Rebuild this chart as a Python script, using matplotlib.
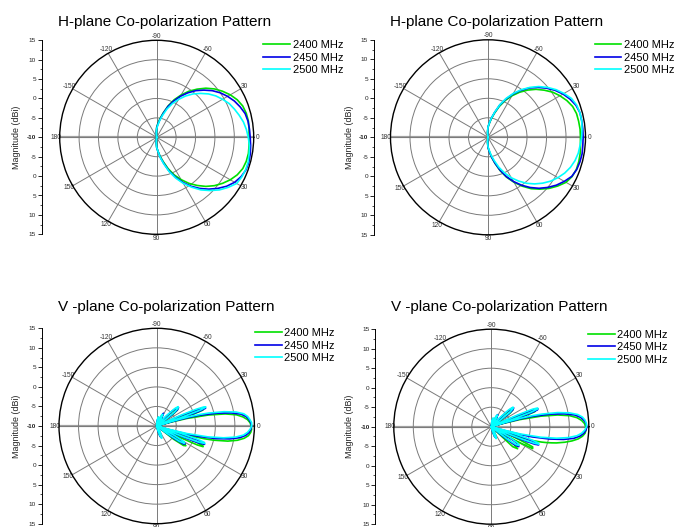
import numpy as np
import matplotlib
matplotlib.use("Agg")
import matplotlib.pyplot as plt
from matplotlib.ticker import AutoMinorLocator

plt.rcParams['font.family'] = ['Liberation Sans', 'DejaVu Sans']

# ---------------- data ----------------
SERIES = ["2400 MHz", "2450 MHz", "2500 MHz"]
COLORS = ["#00e000", "#0000e6", "#00ffff"]

RMIN, RMAX = -10, 15
RING_TICKS = [-5, 0, 5, 10]
THETA_TICKS = [0, 30, 60, 90, 120, 150, 180, 210, 240, 270, 300, 330]
THETA_LABELS = ["0", "30", "60", "90", "120", "150", "180", "-150", "-120", "-90", "-60", "30"]

# H-plane (angle in degrees, magnitude in dBi)
H_ANG = [-100, -95, -90, -85, -80, -75, -70, -65, -60, -55,
         -50, -45, -40, -35, -30, -25, -20, -15, -10, -5,
         0, 5, 10, 15, 20, 25, 30, 35, 40, 45,
         50, 55, 60, 65, 70, 75, 80, 85, 90, 95,
         100]

H1_2400 = [-10, -8.7, -7.4, -6.4, -5.1, -3.5, -1.4, 0.7, 2.6, 4.5,
           6.2, 7.9, 9.4, 10.7, 11.9, 12.9, 13.6, 13.9, 14.0, 13.9,
           13.8, 13.9, 14.0, 13.9, 13.6, 12.9, 11.9, 10.7, 9.4, 7.9,
           6.2, 4.5, 2.6, 0.7, -1.4, -3.5, -5.1, -6.4, -7.4, -8.7,
           -10]
H1_2450 = [-10, -8.8, -7.6, -6.6, -5.4, -3.7, -1.6, 0.3, 2.2, 4.0,
           5.7, 7.2, 8.7, 10.0, 11.1, 12.1, 12.9, 13.6, 13.9, 14.0,
           14.1, 14.3, 14.5, 14.6, 14.5, 14.0, 13.2, 12.0, 10.5, 8.9,
           7.2, 5.4, 3.4, 1.3, -0.8, -3.1, -4.8, -6.4, -7.4, -8.7,
           -10]
H1_2500 = [-10, -9.0, -7.8, -6.9, -5.6, -4.1, -2.2, -0.4, 1.3, 3.0,
           4.6, 6.0, 7.4, 8.6, 9.6, 10.6, 11.3, 12.0, 12.7, 13.2,
           13.6, 14.0, 14.2, 14.4, 14.4, 14.2, 13.8, 12.5, 11.1, 9.4,
           7.7, 5.7, 3.7, 1.6, -0.6, -2.9, -4.7, -6.4, -7.4, -8.7,
           -10]

H2_2400 = [-10, -8.7, -7.4, -6.5, -5.2, -3.6, -1.6, 0.4, 2.3, 4.1,
           5.8, 7.4, 8.8, 10.2, 11.3, 12.3, 13.1, 13.5, 13.6, 13.7,
           13.7, 13.8, 14.0, 14.1, 14.1, 13.8, 13.1, 11.8, 10.4, 8.8,
           7.2, 5.3, 3.3, 1.3, -0.9, -3.1, -4.9, -6.4, -7.4, -8.7,
           -10]
H2_2450 = [-10, -8.7, -7.4, -6.4, -5.0, -3.4, -1.2, 0.8, 2.8, 4.7,
           6.5, 8.1, 9.6, 11.0, 12.2, 13.2, 14.0, 14.4, 14.4, 14.4,
           14.4, 14.4, 14.5, 14.4, 14.2, 13.7, 12.6, 11.4, 10.0, 8.5,
           6.8, 5.0, 3.1, 1.1, -1.1, -3.2, -4.9, -6.4, -7.4, -8.7,
           -10]
H2_2500 = [-10, -8.7, -7.4, -6.4, -5.0, -3.3, -1.1, 1.0, 3.0, 4.9,
           6.7, 8.4, 9.9, 11.3, 12.5, 13.6, 14.2, 14.4, 14.4, 14.2,
           14.0, 13.7, 13.5, 13.1, 12.5, 11.7, 10.7, 9.6, 8.3, 6.9,
           5.4, 3.7, 2.0, 0.1, -1.8, -3.8, -5.3, -6.7, -7.6, -8.8,
           -10]

# V-plane
V_ANG = [-90, -84, -78, -74, -70, -66, -62, -58, -54, -50,
         -47, -44, -42, -40, -38, -36, -34, -31, -28, -26,
         -25, -24, -23, -22, -21, -20, -19, -18, -17, -16,
         -15, -14, -12, -10, -8, -6, -4, -2, 0, 2,
         4, 6, 8, 10, 12, 14, 15, 16, 17, 18,
         19, 20, 21, 22, 23, 24, 25, 26, 28, 30,
         32, 34, 36, 38, 40, 43, 47, 52, 58, 64,
         68, 72, 76, 80, 86, 90]

V1_2400 = [-10, -9, -8.2, -9.5, -10, -8, -6.8, -7.5, -9.5, -10,
           -10, -6, -4, -3.2, -3.2, -4.5, -7.5, -10, -10, -10,
           -10, -10, -8, -3, 0.5, 2.5, 2.5, 0, -5, -10,
           -6, -2, 3.5, 7.8, 10.6, 12.2, 13.3, 13.9, 14.2, 14.3,
           14.1, 13.6, 12.6, 11.0, 8.6, 5.0, 2.6, -0.5, -4.5, -10,
           -10, -7, -2.5, 1.0, 2.8, 3.0, 1.5, -3, -10, -7,
           -2.5, -1.0, -1.5, -4.5, -10, -10, -10, -10, -9.5, -8,
           -7.2, -7.5, -8.8, -10, -10, -10]
V1_2450 = [-10, -8.5, -7.8, -9, -10, -7.5, -6.3, -7.5, -10, -10,
           -8, -4.5, -3.2, -2.7, -3.3, -5.5, -10, -10, -10, -10,
           -10, -8, -3, 1.0, 3.0, 3.3, 1.5, -3, -10, -6,
           -1.5, 1.4, 5.8, 9.3, 11.8, 13.0, 13.7, 14.1, 14.3, 14.1,
           13.7, 12.9, 11.5, 9.0, 5.5, 1.0, -2, -6.5, -10, -3.5,
           1.0, 2.9, 3.1, 1.5, -2.5, -8, -10, -10, -8, -3,
           -1.4, -1.8, -4.5, -10, -10, -10, -10, -10, -9, -7.5,
           -6.8, -7.2, -8.5, -10, -10, -10]
V1_2500 = [-10, -8.3, -7.6, -9.5, -9, -6.8, -6.6, -8, -10, -10,
           -6.5, -3.6, -2.6, -2.9, -4.2, -7.5, -10, -10, -10, -10,
           -8, -3, 1.0, 3.0, 3.5, 1.8, -3, -10, -6, -1.5,
           1.4, 3.7, 7.6, 10.6, 12.5, 13.4, 13.9, 14.3, 14.3, 13.9,
           13.3, 12.3, 10.4, 7.4, 3.4, -2, -6.5, -10, -3.5, 1.0,
           2.9, 3.1, 1.5, -2.5, -8, -10, -10, -10, -5, -1.8,
           -1.6, -3, -7, -10, -10, -10, -10, -10, -8.5, -7.0,
           -6.6, -7.5, -9, -10, -10, -10]

V2_2400 = [-10, -9, -8.3, -9.6, -10, -8.2, -7.0, -7.6, -9.6, -10,
           -10, -6.5, -4.2, -3.2, -3.0, -4.0, -7, -10, -10, -10,
           -10, -10, -7, -2.5, 0.5, 2.0, 1.8, -1, -6, -10,
           -6.5, -2.5, 3.0, 7.3, 10.3, 12.1, 13.2, 13.9, 14.2, 14.3,
           14.1, 13.5, 12.5, 11.0, 9.2, 7.2, 6.0, 4.8, 3.5, 2.0,
           0.5, -1.5, -4.5, -10, -10, -6, -1.5, 1.8, 2.0, -3,
           -10, -10, -6, -2.5, -1.2, -2.5, -10, -10, -9.6, -8.2,
           -7.3, -7.6, -9, -10, -10, -10]
V2_2450 = [-10, -8.7, -8.0, -9.2, -10, -7.8, -6.5, -7.3, -10, -10,
           -8.5, -4.8, -3.0, -2.5, -3.0, -5.0, -10, -10, -10, -10,
           -10, -7, -2.5, 1.5, 2.8, 2.6, 0.5, -4, -10, -6.5,
           -2, 1.0, 5.5, 9.0, 11.6, 13.0, 13.8, 14.3, 14.5, 14.3,
           13.8, 12.9, 11.4, 8.8, 5.2, 0.8, -2.2, -6.5, -10, -4,
           0.5, 2.6, 3.0, 2.0, -1.5, -6, -10, -10, -10, -7,
           -3, -1.5, -1.3, -2.5, -6, -10, -10, -10, -9, -7.6,
           -7.0, -7.4, -8.7, -10, -10, -10]
V2_2500 = [-10, -8.4, -7.7, -9.4, -9.2, -7.0, -6.6, -8, -10, -10,
           -7, -3.8, -2.5, -2.7, -4.0, -7.5, -10, -10, -10, -10,
           -7, -2.5, 1.5, 2.8, 2.8, 0.8, -4, -10, -6.5, -2,
           1.0, 3.4, 7.4, 10.4, 12.4, 13.5, 14.1, 14.4, 14.4, 14.0,
           13.3, 12.1, 10.0, 7.0, 3.0, -2.2, -6.5, -10, -4, 0.5,
           2.6, 3.0, 2.0, -1.5, -6, -10, -10, -10, -8.5, -4.5,
           -2, -1.4, -2.2, -5, -10, -10, -10, -10, -8.6, -7.2,
           -6.7, -7.6, -9.2, -10, -10, -10]

TITLES = ["H-plane Co-polarization Pattern", "H-plane Co-polarization Pattern",
          "V -plane Co-polarization Pattern", "V -plane Co-polarization Pattern"]
YLABEL = "Magnitude (dBi)"

# ---------------- layout (figure pixels, y from top) ----------------
W, H = 686, 527
fig = plt.figure(figsize=(W / 100, H / 100), dpi=100)

panels = [
    dict(ang=H_ANG, data=[H1_2400, H1_2450, H1_2500], c=(156.7, 137.3), R=97.0,
         axx=41.7, labx=16.7, title=(165, 21.7), leg=(263.3, 40.0)),
    dict(ang=H_ANG, data=[H2_2400, H2_2450, H2_2500], c=(488.0, 137.3), R=97.5,
         axx=373.7, labx=349.0, title=(497, 21.7), leg=(594.7, 40.0)),
    dict(ang=V_ANG, data=[V1_2400, V1_2450, V1_2500], c=(156.7, 426.0), R=97.7,
         axx=41.7, labx=16.7, title=(166, 307.3), leg=(255.0, 328.0)),
    dict(ang=V_ANG, data=[V2_2400, V2_2450, V2_2500], c=(491.3, 426.7), R=97.5,
         axx=375.3, labx=349.7, title=(499.3, 307.3), leg=(588.0, 329.5)),
]


def frac_rect(x0, ytop, w, h):
    return [x0 / W, 1 - (ytop + h) / H, w / W, h / H]


for i, p in enumerate(panels):
    cx, cy = p["c"]
    R = p["R"]
    ax = fig.add_axes(frac_rect(cx - R, cy - R, 2 * R, 2 * R), projection="polar")
    ax.set_theta_zero_location("E")
    ax.set_theta_direction(-1)
    ax.set_ylim(RMIN, RMAX)
    ax.set_yticks(RING_TICKS)
    ax.set_yticklabels([])
    ax.set_xticks(np.deg2rad(THETA_TICKS))
    ax.set_xticklabels(THETA_LABELS)
    ax.tick_params(axis="x", labelsize=4.8, labelcolor="#333333", pad=-6,
                   direction="out", length=2.0, width=0.7, color="black")
    ax.tick_params(axis="y", length=0)
    ax.grid(True, color="#7a7a7a", lw=0.7)
    ax.spines["polar"].set_linewidth(1.0)
    ax.spines["polar"].set_color("black")
    # emphasised 0-180 axis line
    ax.plot([0, 0], [RMIN, RMAX], color="#a0a0a0", lw=1.6, zorder=1.5)
    ax.plot([np.pi, np.pi], [RMIN, RMAX], color="#a0a0a0", lw=1.6, zorder=1.5)

    handles = []
    th = np.deg2rad(np.array(p["ang"], dtype=float))
    for vals, col, name in zip(p["data"], COLORS, SERIES):
        ln, = ax.plot(th, vals, color=col, lw=1.2, zorder=3, label=name)
        handles.append(ln)

    # left magnitude scale
    axl = fig.add_axes(frac_rect(p["axx"], cy - R, 0.01, 2 * R))
    span = RMAX - RMIN
    axl.set_ylim(-span, span)
    ticks = np.arange(-span, span + 1, 5)
    axl.set_yticks(ticks)
    labels = [f"{RMIN + abs(t):g}" for t in ticks]
    axl.set_yticklabels(labels)
    axl.yaxis.set_minor_locator(AutoMinorLocator(2))
    axl.set_xticks([])
    for s in ["top", "right", "bottom"]:
        axl.spines[s].set_visible(False)
    axl.spines["left"].set_linewidth(0.7)
    axl.patch.set_visible(False)
    axl.tick_params(axis="y", which="major", length=3, width=0.6, direction="out",
                    labelsize=4.6, pad=1, labelcolor="#222222")
    axl.tick_params(axis="y", which="minor", length=1.5, width=0.5, direction="out")
    for t, lab in zip(ticks, axl.get_yticklabels()):
        if t == 0:
            lab.set_fontweight("bold")

    fig.text(p["labx"] / W, 1 - cy / H, YLABEL, rotation=90, fontsize=6.4,
             ha="center", va="center", color="#222222")
    tx, ty = p["title"]
    fig.text(tx / W, 1 - ty / H, TITLES[i], fontsize=11, ha="center", va="center")

    lx, ly = p["leg"]
    ax.legend(handles=handles, loc="upper left", bbox_to_anchor=(lx / W, 1 - ly / H),
              bbox_transform=fig.transFigure, frameon=False, fontsize=8,
              handlelength=2.4, handletextpad=0.25, labelspacing=0.24,
              borderaxespad=0, borderpad=0)

fig.savefig("out.png", dpi=100, facecolor="white")
